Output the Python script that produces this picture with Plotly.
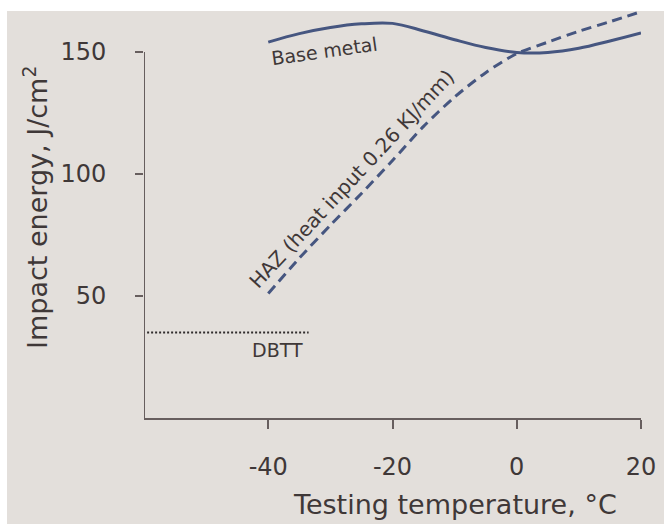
import plotly.graph_objects as go

temps = [-40, -35, -30, -25, -20, -15, -10, -5, 0, 5, 10, 15, 20]
base_metal = [154, 157.5, 160, 161.5, 161.7, 158.6, 155, 151.8, 149.8, 149.8, 151.5, 154.5, 157.8]
haz = [51, 65.5, 79, 92, 105.5, 119.5, 131.5, 141.5, 149.3, 154, 158.5, 162.4, 166.5]
dbtt_x = [-59.5, -33.5]
dbtt_y = [35, 35]
x_ticks = [-40, -20, 0, 20]
x_tick_text = ["-40", "-20", "0", "20"]
y_ticks = [50, 100, 150]

W, H = 664, 524
ML, MR, MT, MB = 144, 23, 8, 106
PW, PH = W - ML - MR, H - MT - MB
BG = "#e3dfdb"
TXT = "#3f3838"
AX = "#675e5e"
LINE = "#465680"
FONT = "DejaVu Sans"


def px(xp):
    return (xp - ML) / PW


def py(yp):
    return (H - MB - yp) / PH


fig = go.Figure()
fig.add_trace(go.Scatter(x=temps, y=base_metal, mode="lines",
                         line=dict(color=LINE, width=3, shape="spline", smoothing=1.0),
                         hoverinfo="skip"))
fig.add_trace(go.Scatter(x=temps, y=haz, mode="lines",
                         line=dict(color=LINE, width=3, dash="10px,6px", shape="spline", smoothing=0.8),
                         hoverinfo="skip"))
fig.add_trace(go.Scatter(x=dbtt_x, y=dbtt_y, mode="lines",
                         line=dict(color="#302c2c", width=2, dash="2px,2px"),
                         hoverinfo="skip"))

shapes = [
    dict(type="rect", xref="paper", yref="paper", x0=px(7), x1=px(W + 5), y0=py(H + 5), y1=py(11),
         fillcolor=BG, line=dict(width=0), layer="below"),
    dict(type="line", xref="x", yref="y", x0=-60, x1=-60, y0=0, y1=150,
         line=dict(color=AX, width=2)),
]

annotations = [
    dict(x=-31, y=150.2, xref="x", yref="y", text="Base metal", showarrow=False,
         textangle=-8, font=dict(family=FONT, size=19, color=TXT)),
    dict(x=-26.6, y=98.0, xref="x", yref="y", text="HAZ (heat input 0.26 KJ/mm)", showarrow=False,
         textangle=-47, font=dict(family=FONT, size=20, color=TXT)),
    dict(x=-38.5, y=27.9, xref="x", yref="y", text="DBTT", showarrow=False,
         font=dict(family=FONT, size=19, color=TXT)),
    dict(x=-9.9, y=py(504), xref="x", yref="paper", text="Testing temperature, °C", showarrow=False,
         xanchor="center", yanchor="middle", font=dict(family=FONT, size=27, color=TXT)),
    dict(x=px(35), y=py(208), xref="paper", yref="paper", text="Impact energy, J/cm<sup>2</sup>",
         showarrow=False, textangle=-90, xanchor="center", yanchor="middle",
         font=dict(family=FONT, size=27, color=TXT)),
]

fig.update_layout(
    width=W, height=H,
    margin=dict(l=ML, r=MR, t=MT, b=MB),
    paper_bgcolor="white", plot_bgcolor="rgba(0,0,0,0)",
    showlegend=False,
    shapes=shapes, annotations=annotations,
    xaxis=dict(range=[-60, 20], tickvals=x_ticks, ticktext=x_tick_text, ticks="outside",
               ticklen=9, tickwidth=2,
               tickcolor=AX, showline=True, linecolor=AX, linewidth=2, showgrid=False,
               zeroline=False, ticklabelstandoff=17,
               tickfont=dict(family=FONT, size=24, color=TXT)),
    yaxis=dict(range=[0, 168], tickvals=y_ticks, ticks="outside", ticklen=8, tickwidth=2,
               tickcolor=AX, showline=False, showgrid=False, zeroline=False,
               ticklabelstandoff=24,
               tickfont=dict(family=FONT, size=24, color=TXT)),
)

fig.write_html("out.html")
